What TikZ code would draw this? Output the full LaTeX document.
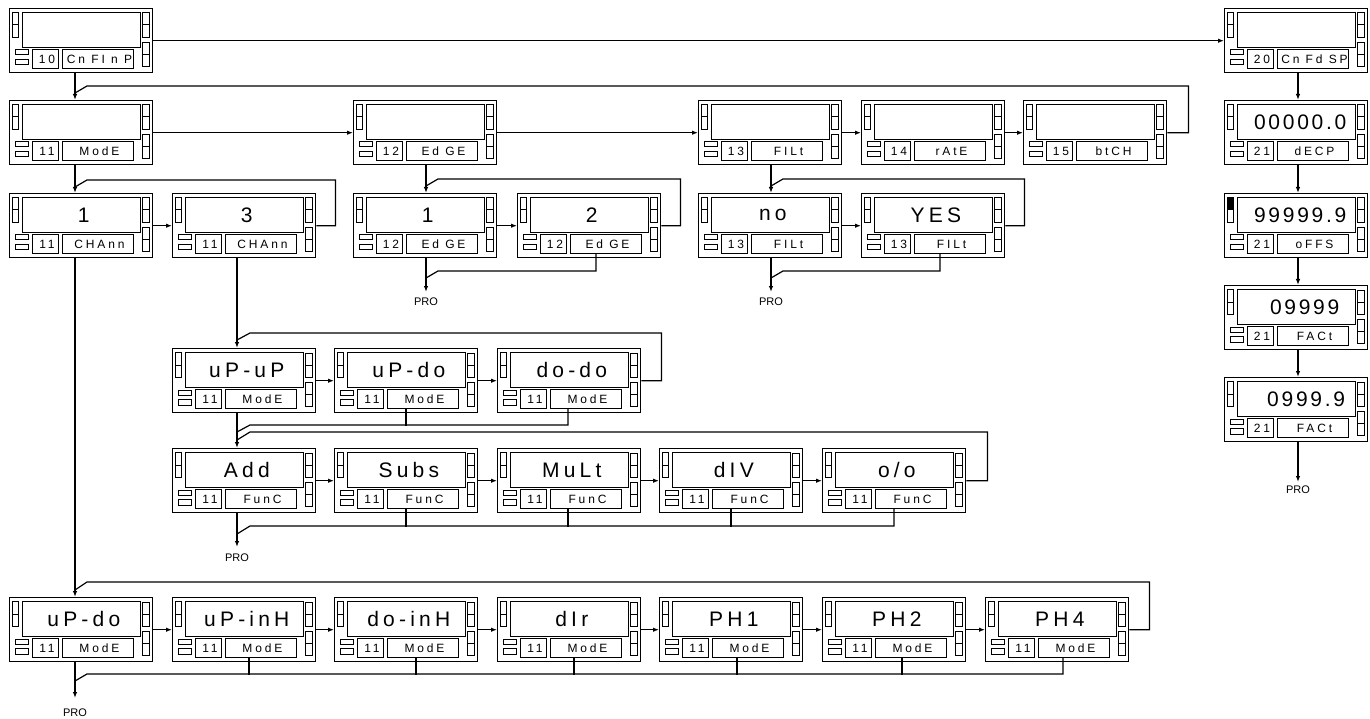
\documentclass[tikz,border=0pt]{standalone}
\usepackage{fontspec}
\setmainfont{Liberation Sans}
\newfontfamily\dispfont[LetterSpace=20]{Liberation Sans}
\newfontfamily\digfont[LetterSpace=13]{Liberation Sans}
\newfontfamily\labfont[LetterSpace=24]{Liberation Sans}
\usetikzlibrary{arrows.meta,calc}
\tikzset{
  panelbox/.style={draw, line width=1.4pt, minimum width=143pt, minimum height=64pt, inner sep=0pt, anchor=north west},
  dispbox/.style={draw, line width=1.1pt, minimum width=117.7pt, minimum height=34.4pt, inner sep=0pt, anchor=north west, font=\dispfont\fontsize{21}{21}\selectfont},
  numbox/.style={draw, line width=1.1pt, minimum width=26.6pt, minimum height=18.4pt, inner sep=0pt, anchor=north west, font=\labfont\fontsize{12}{12}\selectfont},
  labbox/.style={draw, line width=1.1pt, minimum width=71.6pt, minimum height=18.4pt, inner sep=0pt, anchor=north west, font=\labfont\fontsize{12}{12}\selectfont},
  ind/.style={draw, line width=1pt},
  conn/.style={line width=1.2pt},
  arr/.style={conn, -{Latex[length=6pt,width=4.5pt]}},
  protext/.style={font=\fontsize{11}{11}\selectfont, inner sep=0pt, anchor=north},
}
\newcommand\mypanel[6]{%
  \node[panelbox] (#1) at (#2,#3) {};
  \node[dispbox] (#1d) at (#2+13.3,#3+4.3) {\kern0.2em#4};
  \node[numbox] (#1n) at (#2+22.7,#3+41.3) {\kern0.24em#5};
  \node[labbox] (#1l) at (#2+52.7,#3+41.3) {\kern0.24em#6};
  \draw[ind] (#2+3.3,#3+4.7) rectangle (#2+9.3,#3+17);
  \draw[ind] (#2+3.3,#3+17) rectangle (#2+9.3,#3+29.3);
  \draw[ind] (#2+133.7,#3+5) rectangle (#2+140,#3+17);
  \draw[ind] (#2+133.7,#3+17) rectangle (#2+140,#3+29.3);
  \draw[ind] (#2+133.7,#3+34.7) rectangle (#2+140,#3+46.3);
  \draw[ind] (#2+133.7,#3+46.3) rectangle (#2+140,#3+58.7);
  \draw[ind] (#2+6.7,#3+42) rectangle (#2+19.3,#3+47);
  \draw[ind] (#2+6.7,#3+51.3) rectangle (#2+19.3,#3+57);
}
\newcommand\digits[1]{\digfont\fontsize{21}{21}\selectfont\kern0.13em#1}
\begin{document}
\begin{tikzpicture}[x=1pt,y=-1pt]
\useasboundingbox (0,0) rectangle (1370,719);
% row 1
\mypanel{PA}{9}{8}{}{10}{Cn FI n P}
\mypanel{PB}{1224}{8}{}{20}{Cn Fd SP}
% row 2
\mypanel{PC}{9}{100}{}{11}{ModE}
\mypanel{PD}{353}{100}{}{12}{Ed GE}
\mypanel{PE}{698}{100}{}{13}{FILt}
\mypanel{PF}{861}{100}{}{14}{rAtE}
\mypanel{PG}{1023}{100}{}{15}{btCH}
% row 3
\mypanel{CA}{9}{193}{1}{11}{CHAnn}
\mypanel{CB}{172}{193}{3}{11}{CHAnn}
\mypanel{EA}{353}{193}{1}{12}{Ed GE}
\mypanel{EB}{517}{193}{2}{12}{Ed GE}
\mypanel{FA}{698}{193}{no}{13}{FILt}
\mypanel{FB}{861}{193}{YES}{13}{FILt}
% right column
\mypanel{DA}{1224}{100}{\digits{00000.0}}{21}{dECP}
\mypanel{DB}{1224}{193}{\digits{99999.9}}{21}{oFFS}
\mypanel{DC}{1224}{285}{\digits{\hspace{9pt}09999}}{21}{FACt}
\mypanel{DD}{1224}{377}{\digits{\hspace{12pt}0999.9}}{21}{FACt}
\filldraw[ind, fill=black] (1224+3.3,193+4.7) rectangle (1224+9.3,193+17);
% row 4
\mypanel{MA}{172}{348}{uP-uP}{11}{ModE}
\mypanel{MB}{334}{348}{uP-do}{11}{ModE}
\mypanel{MC}{497}{348}{do-do}{11}{ModE}
% row 5
\mypanel{UA}{172}{448}{Add}{11}{FunC}
\mypanel{UB}{334}{448}{Subs}{11}{FunC}
\mypanel{UC}{497}{448}{MuLt}{11}{FunC}
\mypanel{UD}{659}{448}{dIV}{11}{FunC}
\mypanel{UE}{822}{448}{o/o}{11}{FunC}
% row 6
\mypanel{BA}{9}{597}{uP-do}{11}{ModE}
\mypanel{BB}{172}{597}{uP-inH}{11}{ModE}
\mypanel{BC}{334}{597}{do-inH}{11}{ModE}
\mypanel{BD}{497}{597}{dIr}{11}{ModE}
\mypanel{BE}{659}{597}{PH1}{11}{ModE}
\mypanel{BF}{822}{597}{PH2}{11}{ModE}
\mypanel{BG}{985}{597}{PH4}{11}{ModE}

% PRO labels
\node[protext] (proE) at (426,298) {PRO};
\node[protext] (proF) at (771,298) {PRO};
\node[protext] (proD) at (1298,486) {PRO};
\node[protext] (proU) at (237,554) {PRO};
\node[protext] (proB) at (75,709) {PRO};

% junction coordinates
\coordinate (L2a) at (87,86);   \coordinate (L2b) at (75,93);
\coordinate (L3a) at (87,180);  \coordinate (L3b) at (75,187);
\coordinate (LEa) at (438,179); \coordinate (LEb) at (426,186);
\coordinate (LFa) at (783,179); \coordinate (LFb) at (771,186);
\coordinate (LMa) at (250,333); \coordinate (LMb) at (237,340);
\coordinate (LUa) at (250,432); \coordinate (LUb) at (237,440);
\coordinate (LBa) at (87,582);  \coordinate (LBb) at (75,590);
\coordinate (REa) at (438,271); \coordinate (REb) at (426,278);
\coordinate (RFa) at (783,271); \coordinate (RFb) at (771,278);
\coordinate (RMa) at (250,425); \coordinate (RMb) at (237,432);
\coordinate (RUa) at (250,526); \coordinate (RUb) at (237,534);
\coordinate (RBa) at (87,674);  \coordinate (RBb) at (75,681);

% row 1
\draw[arr] (PA.east) -- (PB.west);
\draw[arr] ($(PA.south west)+(66,0)$) -- ($(PC.north west)+(66,0)$);
% right column
\draw[arr] ($(PB.south west)+(74,0)$) -- ($(DA.north west)+(74,0)$);
\draw[arr] ($(DA.south west)+(74,0)$) -- ($(DB.north west)+(74,0)$);
\draw[arr] ($(DB.south west)+(74,0)$) -- ($(DC.north west)+(74,0)$);
\draw[arr] ($(DC.south west)+(74,0)$) -- ($(DD.north west)+(74,0)$);
\draw[arr] ($(DD.south west)+(74,0)$) -- ($(proD.north)+(0,-4)$);
% row 2
\draw[arr] (PC.east) -- (PD.west);
\draw[arr] (PD.east) -- (PE.west);
\draw[arr] (PE.east) -- (PF.west);
\draw[arr] (PF.east) -- (PG.west);
\draw[conn] (PG.east) -- ++(21,0) |- (L2a) -- (L2b);
\draw[arr] ($(PC.south west)+(66,0)$) -- ($(CA.north west)+(66,0)$);
\draw[arr] ($(PD.south west)+(73,0)$) -- ($(EA.north west)+(73,0)$);
\draw[arr] ($(PE.south west)+(73,0)$) -- ($(FA.north west)+(73,0)$);
% row 3
\draw[arr] (CA.east) -- (CB.west);
\draw[conn] (CB.east) -- ++(19,0) |- (L3a) -- (L3b);
\draw[arr] (EA.east) -- (EB.west);
\draw[conn] (EB.east) -- ++(19,0) |- (LEa) -- (LEb);
\draw[arr] ($(EA.south west)+(73,0)$) -- ($(proE.north)+(0,-6)$);
\draw[conn] ($(EBl.south west)+(26.3,0)$) |- (REa) -- (REb);
\draw[arr] (FA.east) -- (FB.west);
\draw[conn] (FB.east) -- ++(19,0) |- (LFa) -- (LFb);
\draw[arr] ($(FA.south west)+(73,0)$) -- ($(proF.north)+(0,-6)$);
\draw[conn] ($(FBl.south west)+(26.3,0)$) |- (RFa) -- (RFb);
\draw[arr] ($(CA.south west)+(66,0)$) -- ($(BA.north west)+(66,0)$);
\draw[arr] ($(CB.south west)+(65,0)$) -- ($(MA.north west)+(65,0)$);
% row 4
\draw[arr] (MA.east) -- (MB.west);
\draw[arr] (MB.east) -- (MC.west);
\draw[conn] (MC.east) -- ++(20,0) |- (LMa) -- (LMb);
\draw[conn] ($(MCl.south west)+(18.3,0)$) |- (RMa) -- (RMb);
\draw[conn] ($(MBl.south west)+(19.3,0)$) -- ($(MBl.south west)+(19.3,17.3)$);
\draw[arr] ($(MA.south west)+(65,0)$) -- ($(UA.north west)+(65,0)$);
% row 5
\draw[arr] (UA.east) -- (UB.west);
\draw[arr] (UB.east) -- (UC.west);
\draw[arr] (UC.east) -- (UD.west);
\draw[arr] (UD.east) -- (UE.west);
\draw[conn] (UE.east) -- ++(21,0) |- (LUa) -- (LUb);
\draw[conn] ($(UEl.south west)+(19.3,0)$) |- (RUa) -- (RUb);
\foreach \n/\d in {UB/19.3, UC/18.3, UD/19.3}
  \draw[conn] ($(\n l.south west)+(\d,0)$) -- ($(\n l.south west)+(\d,18.3)$);
\draw[arr] ($(UA.south west)+(65,0)$) -- ($(proU.north)+(0,-7)$);
% row 6
\draw[arr] (BA.east) -- (BB.west);
\draw[arr] (BB.east) -- (BC.west);
\draw[arr] (BC.east) -- (BD.west);
\draw[arr] (BD.east) -- (BE.west);
\draw[arr] (BE.east) -- (BF.west);
\draw[arr] (BF.east) -- (BG.west);
\draw[conn] (BG.east) -- ++(20,0) |- (LBa) -- (LBb);
\draw[conn] ($(BGl.south west)+(25.3,0)$) |- (RBa) -- (RBb);
\foreach \n/\d in {BB/24.3, BC/29.3, BD/24.3, BE/25.3, BF/27.3}
  \draw[conn] ($(\n l.south west)+(\d,0)$) -- ($(\n l.south west)+(\d,17.3)$);
\draw[arr] ($(BA.south west)+(66,0)$) -- ($(proB.north)+(0,-11)$);
\end{tikzpicture}
\end{document}
